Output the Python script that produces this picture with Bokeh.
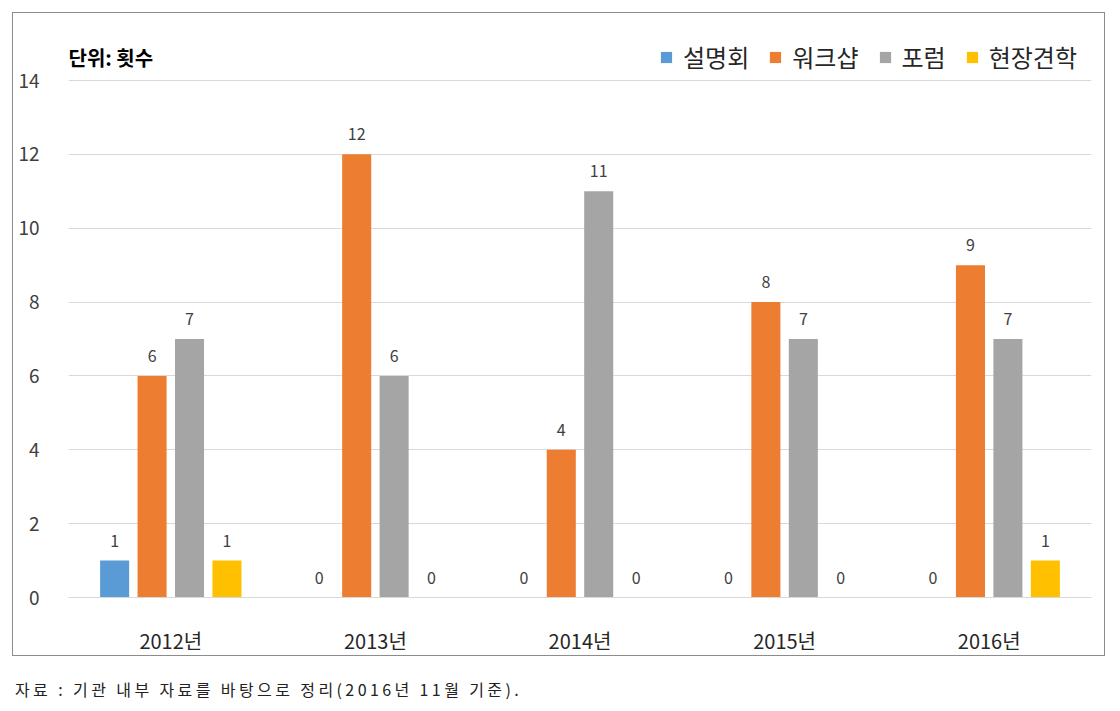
from bokeh.plotting import figure
from bokeh.models import ColumnDataSource, FactorRange, Range1d, Legend, LegendItem, Label, Div, FixedTicker
from bokeh.transform import dodge
from bokeh.layouts import column
from bokeh.embed import file_html
from bokeh.resources import INLINE
from bokeh.core.properties import value

years = ["2012년", "2013년", "2014년", "2015년", "2016년"]
series = ["설명회", "워크샵", "포럼", "현장견학"]
briefing = [1, 0, 0, 0, 0]
workshop = [6, 12, 4, 8, 9]
forum = [7, 6, 11, 7, 7]
fieldtrip = [1, 0, 0, 0, 1]
colors = ["#5B9BD5", "#ED7D31", "#A5A5A5", "#FFC000"]
y_ticks = [0, 2, 4, 6, 8, 10, 12, 14]
unit_label = "단위: 횟수"
source_note = "자료 : 기관 내부 자료를 바탕으로 정리(2016년 11월 기준)."

FONT = "Noto Sans CJK KR"

data = {"year": years, "s0": briefing, "s1": workshop, "s2": forum, "s3": fieldtrip}
for i, vals in enumerate([briefing, workshop, forum, fieldtrip]):
    data["t%d" % i] = [str(v) for v in vals]
src = ColumnDataSource(data)

# frame spans from the legend row down to the zero line; ticks stop at 14
y_top = 14 * 572 / 517.0

p = figure(x_range=FactorRange(*years), y_range=Range1d(0, y_top),
           width=1093, height=644, output_backend="svg", toolbar_location=None,
           min_border_left=55, min_border_right=15, min_border_top=12, min_border_bottom=59,
           margin=(12, 0, 0, 12))
p.styles = {"border": "1px solid #8c8c8c"}
p.outline_line_color = None
p.background_fill_color = "white"
p.border_fill_color = "white"

offsets = [-0.2745, -0.0915, 0.0915, 0.2745]
bar_w = 0.142
renderers = []
for i in range(4):
    r = p.vbar(x=dodge("year", offsets[i], range=p.x_range), top="s%d" % i, width=bar_w,
               source=src, fill_color=colors[i], line_color=None)
    renderers.append(r)
    p.text(x=dodge("year", offsets[i], range=p.x_range), y="s%d" % i, text="t%d" % i,
           source=src, text_align="center", text_baseline="middle", y_offset=-20,
           text_font=value(FONT), text_font_size="16px", text_color="#404040")

legend = Legend(items=[LegendItem(label=series[i], renderers=[renderers[i]]) for i in range(4)],
                orientation="horizontal", location="top_right",
                glyph_width=14, glyph_height=14, label_standoff=10, spacing=19,
                padding=0, margin=14, border_line_color=None, background_fill_alpha=0,
                label_text_font=FONT, label_text_font_size="24px", label_text_color="#262626",
                label_height=26)
p.add_layout(legend, "center")

p.add_layout(Label(x=0, y=14, x_offset=0, y_offset=23, text=unit_label,
                   text_font=FONT, text_font_size="20px", text_font_style="bold",
                   text_color="#000000", text_baseline="middle", text_align="left"))

p.xgrid.grid_line_color = None
p.ygrid.grid_line_color = "#d9d9d9"
p.yaxis.ticker = FixedTicker(ticks=y_ticks)
p.yaxis.axis_line_color = None
p.yaxis.major_tick_line_color = None
p.yaxis.minor_tick_line_color = None
p.yaxis.major_label_standoff = 23
p.yaxis.major_label_text_font = FONT
p.yaxis.major_label_text_font_size = "19px"
p.yaxis.major_label_text_color = "#404040"
p.xaxis.axis_line_color = "#d9d9d9"
p.xaxis.major_tick_line_color = None
p.xaxis.minor_tick_line_color = None
p.xaxis.major_label_standoff = 22
p.xaxis.major_label_text_font = FONT
p.xaxis.major_label_text_font_size = "20px"
p.xaxis.major_label_text_color = "#262626"

note = Div(text=source_note, margin=(22, 0, 0, 15),
           styles={"font-family": FONT, "font-size": "16px", "letter-spacing": "3.4px",
                   "color": "#222222", "white-space": "nowrap"})

layout = column(p, note)
open("out.html", "w").write(file_html(layout, INLINE))
